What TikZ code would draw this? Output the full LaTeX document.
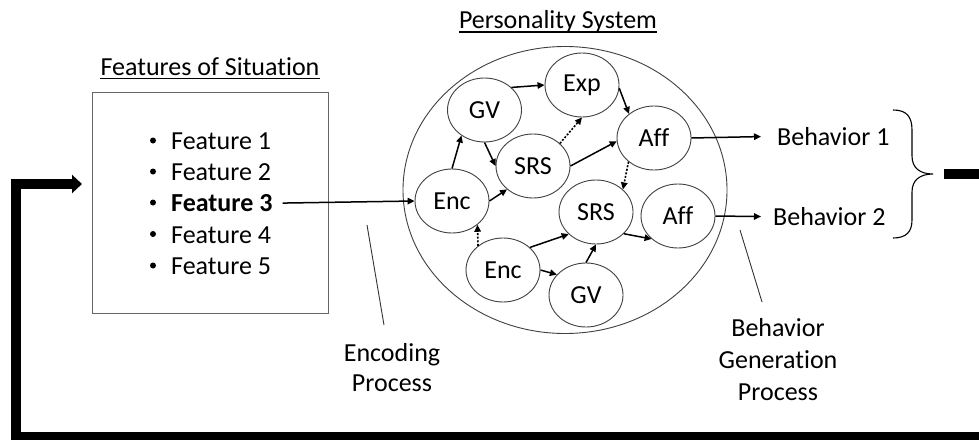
\documentclass[tikz,border=0pt]{standalone}
\usepackage{fontspec}
\setmainfont{Carlito}[RawFeature={-liga;-clig;-dlig}]
\usetikzlibrary{arrows.meta,calc,shapes.geometric}

\begin{document}
\begin{tikzpicture}[x=1pt,y=-1pt,
  every node/.style={font=\fontsize{26}{31}\selectfont, text=black, inner sep=0pt},
  state/.style={draw=black!75, line width=0.9pt, ellipse, minimum width=74pt, minimum height=64pt},
  link/.style={line width=1.5pt, -{Triangle[length=7pt,width=6.5pt]}},
  weak/.style={line width=1.6pt, dash pattern=on 2pt off 1.6pt, -{Triangle[length=7pt,width=6.5pt]}},
  pointer/.style={draw=black!80, line width=0.9pt},
  loop/.style={line width=10pt, line join=miter},
  dot/.style={circle, fill=black, minimum size=6pt}
]
\clip (0,0) rectangle (979,439);
\fill[white] (0,0) rectangle (979,439);

% --- situation features ---
\node[anchor=base] (sittitle) at (210,75) {Features of Situation};
\draw[line width=1.3pt] ([yshift=-3.6pt]sittitle.base west) -- ([yshift=-3.6pt]sittitle.base east);
\node[draw=black!60, line width=0.9pt, minimum width=236pt, minimum height=221pt] (box) at (210,202.5) {};
\foreach \i/\yy in {1/149.5,2/180.5,4/243,5/274.5}{
  \node[dot] (b\i) at (153,\yy-9) {};
  \node[anchor=base west] (f\i) at (171,\yy) {Feature \i};
}
\node[dot] (b3) at (153,202.5) {};
\node[anchor=base west] (f3) at (171,211.5) {\bfseries Feature 3};

% --- personality system ---
\node[anchor=base] (pstitle) at (558,28) {Personality System};
\draw[line width=1.3pt] ([yshift=-4pt]pstitle.base west) -- ([yshift=-4pt]pstitle.base east);
\node[draw=black!75, line width=0.9pt, ellipse, minimum width=324pt, minimum height=287pt] (sys) at (565,190) {};

\node[state] (gv1)  at (484.5,110) {GV};
\node[state] (exp)  at (582,85)    {Exp};
\node[state] (aff1) at (654,138)   {Aff};
\node[state] (srs1) at (533,166)   {SRS};
\node[state] (enc1) at (452,201)   {Enc};
\node[state] (srs2) at (596,212)   {SRS};
\node[state] (aff2) at (678,216)   {Aff};
\node[state] (enc2) at (503,270)   {Enc};
\node[state] (gv2)  at (586,295)   {GV};

\draw[link] (enc1.north) -- (gv1.228);
\draw[link] (gv1.40) -- (exp.west);
\draw[link] (exp.-5) -- (aff1.136);
\draw[link] (gv1.south) -- (srs1.west);
\draw[weak] (srs1.40) -- (exp.south);
\draw[link] (srs1.east) -- (aff1.185);
\draw[link] (enc1.east) -- (srs1.222);
\draw[weak] (aff1.223) -- (srs2.40);
\draw[weak] (enc2.136) -- (enc1.317);
\draw[link] (enc2.40) -- (srs2.219);
\draw[link] (enc2.east) -- (gv2.145);
\draw[link] (gv2.north) -- (srs2.south);
\draw[link] (srs2.322) -- (aff2.221);

\draw[link] ([xshift=10pt]f3.east) -- (enc1.west);

% --- behaviours ---
\node[anchor=base west] (beh1) at (777,145.5) {Behavior 1};
\node[anchor=base west] (beh2) at (773,225.5) {Behavior 2};
\draw[link] (aff1.east) -- ([xshift=-16pt]beh1.west);
\draw[link] (aff2.east) -- ([xshift=-12pt]beh2.west);

% brace gathering the behaviours
\coordinate (brtop) at (893,110);
\coordinate (brtip) at (933,174);
\coordinate (brbot) at (893,238);
\draw[line width=1.1pt] (brtop) .. controls (906,110) and (912,116) .. (912,130)
  -- (912,156) .. controls (912,168) and (920,174) .. (brtip)
  .. controls (920,174) and (912,180) .. (912,192)
  -- (912,220) .. controls (912,232) and (906,238) .. (brbot);

% --- process labels ---
\node[align=center, font=\fontsize{26}{30}\selectfont] (encproc) at (392,368) {Encoding\\Process};
\coordinate (encp1) at (367,225);
\coordinate (encp2) at (384,325);
\draw[pointer] (encp1) -- (encp2);

\node[align=center, font=\fontsize{26}{32}\selectfont] (genproc) at (778,360) {Behavior\\Generation\\Process};
\coordinate (genp1) at (740,230);
\coordinate (genp2) at (762,302);
\draw[pointer] (genp1) -- (genp2);

% --- feedback loop ---
\coordinate (fbstart) at (944,174);
\draw[loop, -{Triangle[length=10pt,width=18pt]}] (fbstart) -- (995,174) -- (995,437) -- (16,437) -- (16,184) -- (82,184);
\end{tikzpicture}
\end{document}
